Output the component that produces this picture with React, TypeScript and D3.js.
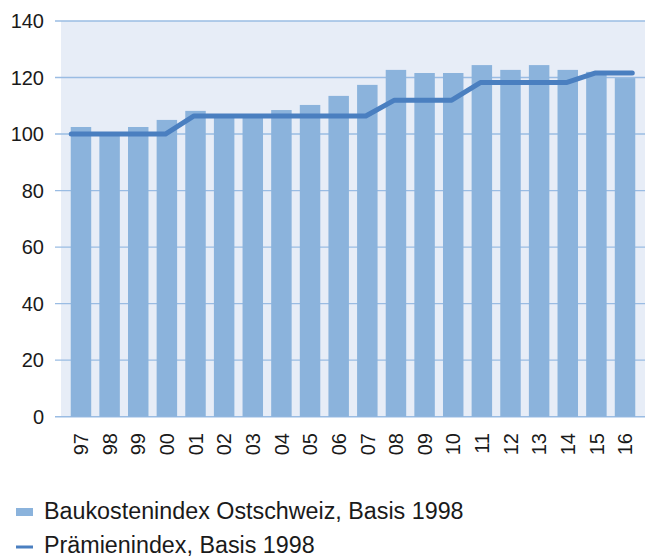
import { useEffect, useRef } from "react";
import * as d3 from "d3";

const years = ["97", "98", "99", "00", "01", "02", "03", "04", "05", "06", "07", "08", "09", "10", "11", "12", "13", "14", "15", "16"];
const baukosten = [102.5, 100, 102.5, 105, 108.2, 106, 106, 108.5, 110.3, 113.5, 117.4, 122.7, 121.6, 121.6, 124.4, 122.7, 124.4, 122.7, 122, 119.8];
const praemien = [100, 100, 100, 100, 106.4, 106.4, 106.4, 106.4, 106.4, 106.4, 106.4, 112, 112, 112, 118.2, 118.2, 118.2, 118.2, 121.6, 121.6];
const yTicks = [0, 20, 40, 60, 80, 100, 120, 140];
const legendLabels = ["Baukostenindex Ostschweiz, Basis 1998", "Prämienindex, Basis 1998"];

const W = 649;
const H = 559;
const BAR = "#8BB3DC";
const LINE = "#4A7FC0";
const BG = "#E7EDF7";
const GRID = "#9ABCE3";
const FONT = "'Liberation Sans', Arial, sans-serif";

export default function App() {
  const svgRef = useRef<SVGSVGElement>(null);

  useEffect(() => {
    if (!svgRef.current) return;
    const svg = d3.select(svgRef.current);
    svg.selectAll("*").remove();

    const left = 61;
    const right = 645;
    const top = 21;
    const bottom = 416.7;

    const x = d3.scaleBand<string>().domain(years).range([left, right]).paddingInner(0.285).paddingOuter(0.34);
    const y = d3.scaleLinear().domain([0, 140]).range([bottom, top]);

    svg.append("rect")
      .attr("x", left)
      .attr("y", top)
      .attr("width", right - left)
      .attr("height", bottom - top)
      .attr("fill", BG);

    // gridlines + y labels
    svg.selectAll(".grid")
      .data(yTicks)
      .enter()
      .append("line")
      .attr("x1", 55)
      .attr("x2", right)
      .attr("y1", (d) => y(d))
      .attr("y2", (d) => y(d))
      .attr("stroke", GRID)
      .attr("stroke-width", 1.4);

    svg.selectAll(".ylab")
      .data(yTicks)
      .enter()
      .append("text")
      .attr("x", 44)
      .attr("y", (d) => y(d))
      .attr("dy", "0.36em")
      .attr("text-anchor", "end")
      .style("font-family", FONT)
      .style("font-size", "20px")
      .style("fill", "#1a1a1a")
      .text((d) => d);

    // bars
    svg.selectAll(".bar")
      .data(baukosten)
      .enter()
      .append("rect")
      .attr("x", (d, i) => x(years[i])!)
      .attr("y", (d) => y(d))
      .attr("width", x.bandwidth())
      .attr("height", (d) => y(0) - y(d))
      .attr("fill", BAR);

    // line, stretched to the outer bar edges
    const bw = x.bandwidth();
    const pts: [number, number][] = praemien.map((v, i) => [x(years[i])! + bw / 2 - 1.5, y(v)]);
    pts.unshift([x(years[0])! + 0.5, y(praemien[0])]);
    pts.push([x(years[years.length - 1])! + bw - 3, y(praemien[praemien.length - 1])]);

    svg.append("path")
      .attr("d", d3.line()(pts))
      .attr("fill", "none")
      .attr("stroke", LINE)
      .attr("stroke-width", 5)
      .attr("stroke-linecap", "round")
      .attr("stroke-linejoin", "round");

    // x labels
    svg.selectAll(".xlab")
      .data(years)
      .enter()
      .append("text")
      .attr("transform", (d) => `translate(${x(d)! + bw / 2},433) rotate(-90)`)
      .attr("dy", "0.36em")
      .attr("text-anchor", "end")
      .style("font-family", FONT)
      .style("font-size", "20px")
      .style("fill", "#1a1a1a")
      .text((d) => d);

    // legend
    svg.append("rect")
      .attr("x", 16)
      .attr("y", 508)
      .attr("width", 17)
      .attr("height", 8)
      .attr("fill", BAR);

    svg.append("line")
      .attr("x1", 16)
      .attr("x2", 33)
      .attr("y1", 547)
      .attr("y2", 547)
      .attr("stroke", LINE)
      .attr("stroke-width", 3);

    svg.selectAll(".leg")
      .data(legendLabels)
      .enter()
      .append("text")
      .attr("x", 44)
      .attr("y", (d, i) => 519 + i * 34)
      .style("font-family", FONT)
      .style("font-size", "23.3px")
      .style("fill", "#1a1a1a")
      .text((d) => d);
  }, []);

  return (
    <div style={{ position: "absolute", left: 0, top: 0 }}>
      <svg ref={svgRef} width={W} height={H} style={{ display: "block", background: "#fff" }} />
    </div>
  );
}
